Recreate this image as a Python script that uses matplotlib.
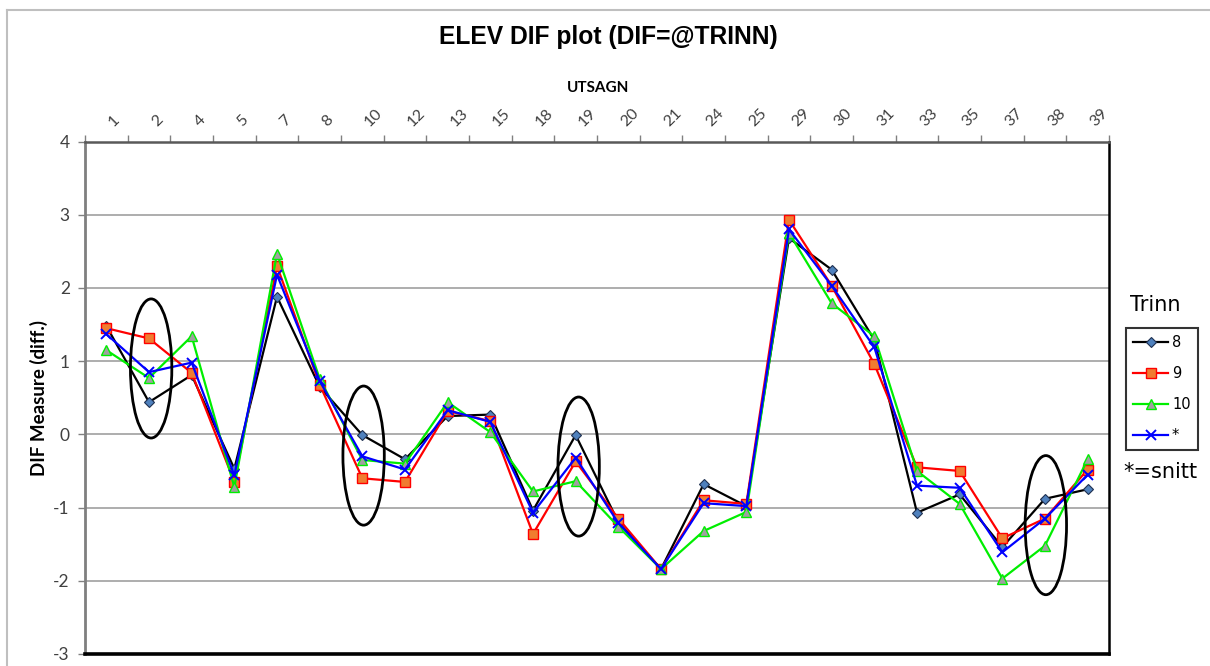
import matplotlib
matplotlib.use("Agg")
import matplotlib.pyplot as plt
from matplotlib.patches import Ellipse
from matplotlib.lines import Line2D

plt.rcParams['axes.unicode_minus'] = False

# Item labels (UTSAGN) along the top axis
utsagn = ['1', '2', '4', '5', '7', '8', '10', '12', '13', '15', '18', '19',
          '20', '21', '24', '25', '29', '30', '31', '33', '35', '37', '38', '39']

# DIF measures per grade level (Trinn) and the average (snitt)
trinn8 = [1.48, 0.44, 0.81, -0.47, 1.88, 0.65, -0.01, -0.34, 0.25, 0.27, -1.04, -0.01,
          -1.20, -1.84, -0.68, -0.98, 2.68, 2.25, 1.29, -1.07, -0.82, -1.54, -0.88, -0.75]
trinn9 = [1.45, 1.31, 0.84, -0.65, 2.30, 0.68, -0.60, -0.65, 0.32, 0.18, -1.36, -0.37,
          -1.15, -1.84, -0.90, -0.95, 2.93, 2.03, 0.96, -0.45, -0.50, -1.42, -1.15, -0.48]
trinn10 = [1.15, 0.77, 1.34, -0.72, 2.47, 0.76, -0.35, -0.40, 0.44, 0.03, -0.78, -0.64,
           -1.26, -1.84, -1.32, -1.06, 2.75, 1.79, 1.34, -0.50, -0.95, -1.97, -1.52, -0.34]
snitt = [1.37, 0.85, 0.98, -0.56, 2.18, 0.73, -0.30, -0.48, 0.33, 0.17, -1.07, -0.32,
         -1.21, -1.84, -0.94, -0.98, 2.80, 2.03, 1.19, -0.70, -0.73, -1.61, -1.15, -0.55]

# Highlighted items (ellipse centre: item position, DIF value)
mark_x = [1.05, 6.03, 11.07, 22.02]
mark_y = [0.90, -0.29, -0.44, -1.24]

W, H = 1210, 666
fig = plt.figure(figsize=(W / 100, H / 100), dpi=100)
fig.patch.set_facecolor('white')

# chart-area border
fig.add_artist(Line2D([7 / W, 1.0], [1 - 10 / H, 1 - 10 / H], color='#bfbfbf', lw=1.5))
fig.add_artist(Line2D([7 / W, 7 / W], [0, 1 - 10 / H], color='#bfbfbf', lw=1.5))

ax = fig.add_axes([85 / W, 12 / H, (1109 - 85) / W, (654 - 141.5) / H])
x = list(range(len(utsagn)))

series = [
    (trinn8, '8', dict(color='black', marker='D', ms=5.5, mfc='#4f81bd', mec='#1f3050', mew=0.8)),
    (trinn9, '9', dict(color='#ff0000', marker='s', ms=6.5, mfc='#f07c30', mec='#ff0000', mew=1.0)),
    (trinn10, '10', dict(color='#00ee00', marker='^', ms=7.5, mfc='#a0a0a0', mec='#00ee00', mew=1.0)),
    (snitt, '*', dict(color='#0000ff', marker='x', ms=7.5, mec='#0000ff', mew=1.4)),
]
handles = []
for vals, lab, kw in series:
    h, = ax.plot(x, vals, lw=1.6, label=lab, **kw)
    handles.append(h)

for cx, cy in zip(mark_x, mark_y):
    ax.add_patch(Ellipse((cx, cy), 0.97, 1.90, fill=False, ec='black', lw=2.0, zorder=5))

ax.set_xlim(-0.5, len(utsagn) - 0.5)
ax.set_ylim(-3, 4)
ax.set_yticks(range(-3, 5))
ax.yaxis.grid(True, color='#a0a0a0', lw=1.2)
ax.set_axisbelow(True)

# x axis at the top: labels at item centres, tick marks between items
ax.xaxis.tick_top()
ax.set_xticks(x)
ax.set_xticklabels(utsagn)
ax.set_xticks([i - 0.5 for i in range(len(utsagn) + 1)], minor=True)
ax.tick_params(axis='x', which='major', length=0, pad=9, labelsize=11.5,
               labelcolor='#404040', labelrotation=45)
ax.tick_params(axis='x', which='minor', length=5, width=1, color='#808080', top=True, bottom=False)
for t in ax.get_xticklabels():
    t.set_ha('left')
    t.set_va('bottom')
    t.set_fontfamily('Lato')
ax.tick_params(axis='y', length=5, width=1, color='#808080', pad=6, labelsize=12.5,
               labelcolor='#404040')
for t in ax.get_yticklabels():
    t.set_fontfamily('Lato')

ax.spines['left'].set_color('#7f7f7f')
ax.spines['left'].set_linewidth(2.0)
ax.spines['top'].set_color('#595959')
ax.spines['top'].set_linewidth(1.8)
ax.spines['right'].set_color('black')
ax.spines['right'].set_linewidth(1.8)
ax.spines['bottom'].set_color('black')
ax.spines['bottom'].set_linewidth(2.6)

ax.set_ylabel('DIF Measure (diff.)', fontfamily='Lato', fontweight='bold', fontsize=13.5, labelpad=4)

fig.text(608 / W, 1 - 37 / H, 'ELEV DIF plot (DIF=@TRINN)', ha='center', va='center',
         fontfamily='Liberation Sans', fontweight='bold', fontsize=17.7)
fig.text(598 / W, 1 - 88 / H, 'UTSAGN', ha='center', va='center',
         fontfamily='Lato', fontweight='bold', fontsize=11)

leg = fig.legend(handles=handles, loc='upper left', bbox_to_anchor=(1126 / W, 1 - 327.7 / H),
                 borderaxespad=0, frameon=True, fancybox=False, edgecolor='black',
                 prop={'family': 'DejaVu Sans', 'size': 10.5}, handlelength=2.4,
                 handletextpad=0.25, labelspacing=1.1, borderpad=0.5)
leg.get_frame().set_linewidth(1.5)
fig.text(1155 / W, 1 - 305 / H, 'Trinn', ha='center', va='center',
         fontfamily='DejaVu Sans', fontsize=15)
fig.text(1160 / W, 1 - 472 / H, '*=snitt', ha='center', va='center',
         fontfamily='DejaVu Sans', fontsize=15)

fig.savefig('out.png', dpi=100)
